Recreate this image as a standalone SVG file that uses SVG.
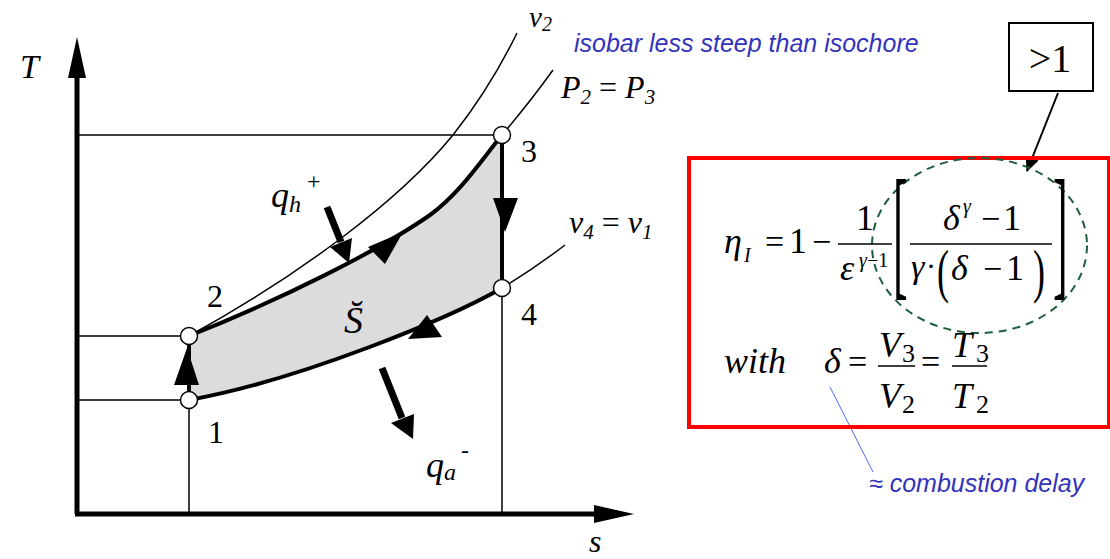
<svg xmlns="http://www.w3.org/2000/svg" width="1110" height="559" viewBox="0 0 1110 559">
<defs>
<style>
.thin{fill:none;stroke:#000;stroke-width:1.5}
.thick{fill:none;stroke:#000;stroke-width:4}
.axis{fill:none;stroke:#000;stroke-width:5}
.head{fill:#000;stroke:none}
.pt{fill:#fff;stroke:#000;stroke-width:1.5}
.m{font-family:"Liberation Serif","Times New Roman",serif;fill:#000}
.i{font-style:italic}
.blue{font-family:"Liberation Sans",Arial,sans-serif;font-style:italic;fill:#3333bb}
</style>
<marker id="ah" markerWidth="16" markerHeight="16" refX="14" refY="8" orient="auto" markerUnits="userSpaceOnUse">
<path d="M0,1 L15,8 L0,15 Z" fill="#000"/>
</marker>
</defs>
<rect width="1110" height="559" fill="#fff"/>

<g id="cycle-area">
<path d="M189,400 L189,336 C280,300 380,250 430,215 C460,193 480,162 502,135 L502,288 C450,318 300,380 189,400 Z" fill="#dcdcdc" stroke="none"/>
</g>

<g id="connectors">
<path class="thin" d="M77,135 H502 M77,336 H189 M77,400 H189 M189,400 V514 M502,288 V514"/>
<path class="thin" d="M189,336 C300,275 400,200 453,135 Q490,88 517,33"/>
<path class="thin" d="M502,135 Q530,102 553,70"/>
<path class="thin" d="M502,288 Q535,268 565,245"/>
<path class="thick" d="M189,400 V336"/>
<path class="thick" d="M189,336 C280,300 380,250 430,215 C460,193 480,162 502,135"/>
<path class="thick" d="M502,135 V288"/>
<path class="thick" d="M502,288 C450,318 300,380 189,400"/>
<polygon class="head" points="187,348 174,385 199,385"/>
<polygon class="head" points="493,198 518,198 505,232"/>
<polygon class="head" points="403,232 368,247 385,264"/>
<polygon class="head" points="408,339 427,315 442,337"/>
<path d="M327,207 L341,242" stroke="#000" stroke-width="7" fill="none"/>
<polygon class="head" points="330,247 352,238 349,263"/>
<path d="M382,368 L402,418" stroke="#000" stroke-width="7" fill="none"/>
<polygon class="head" points="391,423 414,414 413,439"/>
<path class="axis" d="M77,514 V75 M75,514 H596"/>
<polygon class="head" points="77,37 68,78 86,78"/>
<polygon class="head" points="634,514 594,505 594,523"/>
<path d="M1058,93 L1027,171" stroke="#000" stroke-width="2" fill="none" marker-end="url(#ah)"/>
<path d="M830,387 L873,472" stroke="#4a6cff" stroke-width="1" fill="none"/>
</g>

<g id="p1"><circle class="pt" cx="189" cy="400" r="8.5"/><text class="m" x="208" y="443" font-size="32">1</text></g>
<g id="p2"><circle class="pt" cx="189" cy="336" r="8.5"/><text class="m" x="207" y="307" font-size="32">2</text></g>
<g id="p3"><circle class="pt" cx="502" cy="135" r="8.5"/><text class="m" x="521" y="162" font-size="32">3</text></g>
<g id="p4"><circle class="pt" cx="502" cy="288" r="8.5"/><text class="m" x="521" y="325" font-size="32">4</text></g>

<g id="labels">
<text class="m i" x="20" y="78" font-size="34">T</text>
<text class="m i" x="589" y="552" font-size="32">s</text>
<text class="m i" x="529" y="27" font-size="29">v<tspan font-size="20" dy="4">2</tspan></text>
<text class="m i" x="561" y="98" font-size="32">P<tspan font-size="21" dy="6">2</tspan><tspan dy="-6" font-style="normal"> = </tspan>P<tspan font-size="21" dy="6">3</tspan></text>
<text class="m i" x="569" y="233" font-size="32">v<tspan font-size="21" dy="6">4</tspan><tspan dy="-6" font-style="normal"> = </tspan>v<tspan font-size="21" dy="6">1</tspan></text>
<text class="m i" x="271" y="207" font-size="36">q<tspan font-size="24" dy="5">h</tspan></text>
<text class="m" x="307" y="189" font-size="24">+</text>
<text class="m i" x="426" y="477" font-size="36">q<tspan font-size="24" dy="3">a</tspan></text>
<text class="m" x="461" y="458" font-size="24">-</text>
<text class="m i" x="344" y="333" font-size="38">S&#x306;</text>
<text class="blue" x="574" y="52" font-size="25">isobar less steep than isochore</text>
<text class="blue" x="869" y="492" font-size="25">≈ combustion delay</text>
</g>

<g id="gt1">
<rect x="1009" y="23" width="84" height="68" fill="#fff" stroke="#000" stroke-width="2"/>
<text class="m" x="1050" y="72" font-size="40" text-anchor="middle">&gt;1</text>
</g>

<g id="formula-box">
<rect x="689" y="158" width="420" height="269" fill="none" stroke="#ff0000" stroke-width="4"/>
<ellipse cx="979.5" cy="245.5" rx="107.5" ry="87.5" fill="none" stroke="#1d5e3e" stroke-width="2" stroke-dasharray="8,6"/>
<text class="m i" x="724" y="253" font-size="36">η</text>
<text class="m i" x="744" y="262" font-size="20">I</text>
<text class="m" x="765" y="253" font-size="34">=</text>
<text class="m" x="789" y="253" font-size="36">1</text>
<text class="m" x="812" y="253" font-size="34">−</text>
<text class="m" x="865" y="230" font-size="36" text-anchor="middle">1</text>
<path d="M838,244 H892" stroke="#000" stroke-width="1.5"/>
<text class="m i" x="840" y="280" font-size="36">ε</text>
<text class="m" x="859" y="267" font-size="20"><tspan font-style="italic">γ</tspan>−1</text>
<text class="m" transform="translate(893,280) scale(0.3,1)" font-size="147">[</text>
<text class="m" transform="translate(1053,280) scale(0.3,1)" font-size="147">]</text>
<text class="m i" x="943" y="230" font-size="36">δ</text>
<text class="m i" x="963" y="213" font-size="20">γ</text>
<text class="m" x="981" y="230" font-size="34">−</text>
<text class="m" x="1003" y="230" font-size="36">1</text>
<path d="M910,244 H1052" stroke="#000" stroke-width="1.5"/>
<text class="m i" x="911" y="278" font-size="34">γ</text>
<text class="m" x="926" y="276" font-size="30">·</text>
<text class="m" transform="translate(937,291) scale(0.6,1)" font-size="60">(</text>
<text class="m i" x="951" y="280" font-size="36">δ</text>
<text class="m" x="983" y="280" font-size="34">−</text>
<text class="m" x="1006" y="280" font-size="36">1</text>
<text class="m" transform="translate(1033,291) scale(0.6,1)" font-size="60">)</text>
<text class="m i" x="724" y="373" font-size="36">with</text>
<text class="m i" x="824" y="373" font-size="36">δ</text>
<text class="m" x="848" y="373" font-size="34">=</text>
<text class="m i" x="879" y="357" font-size="36">V</text>
<text class="m" x="902" y="362" font-size="26">3</text>
<path d="M878,366 H915" stroke="#000" stroke-width="1.5"/>
<text class="m i" x="879" y="408" font-size="36">V</text>
<text class="m" x="902" y="413" font-size="26">2</text>
<text class="m" x="921" y="373" font-size="34">=</text>
<text class="m i" x="952" y="357" font-size="36">T</text>
<text class="m" x="976" y="362" font-size="26">3</text>
<path d="M952,366 H987" stroke="#000" stroke-width="1.5"/>
<text class="m i" x="952" y="408" font-size="36">T</text>
<text class="m" x="976" y="413" font-size="26">2</text>
</g>
</svg>
